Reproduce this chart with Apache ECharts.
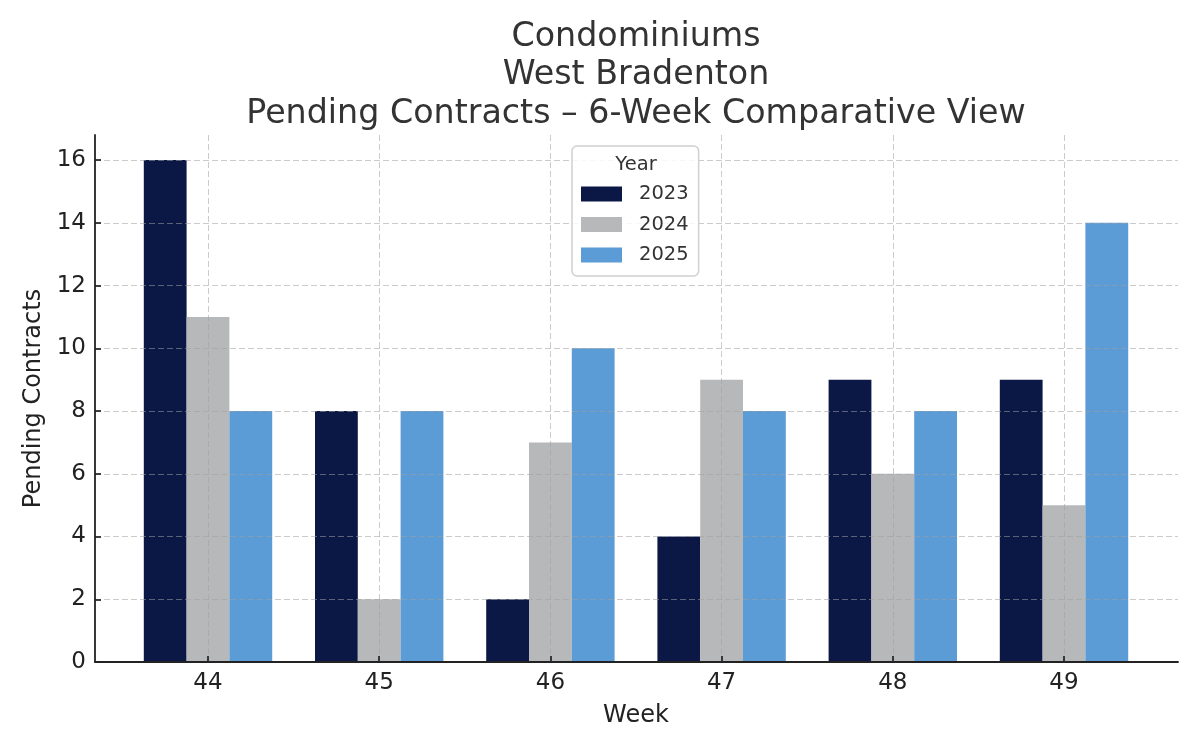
<!DOCTYPE html>
<html>
<head>
<meta charset="utf-8">
<script src="https://cdn.jsdelivr.net/npm/echarts@6/dist/echarts.min.js"></script>
<style>html,body{margin:0;padding:0;background:#fff}#c{width:1200px;height:750px}</style>
</head>
<body>
<div id="c"></div>
<script>
const weeks = ['44', '45', '46', '47', '48', '49'];
const yearNames = ['2023', '2024', '2025'];
const values2023 = [16, 8, 2, 4, 9, 9];
const values2024 = [11, 2, 7, 9, 6, 5];
const values2025 = [8, 8, 10, 8, 8, 14];
const yTicks = [0, 2, 4, 6, 8, 10, 12, 14, 16];
const titleLines = ['Condominiums', 'West Bradenton', 'Pending Contracts \u2013 6-Week Comparative View'];

const colors = ['#0b1846', '#b7b8ba', '#5b9bd6'];
const FONT = 'DejaVu Sans';
const gridLine = { show: true, lineStyle: { color: 'rgba(160,160,160,0.55)', width: 1, type: [6, 3] } };
const yMax = 16.8;

const chart = echarts.init(document.getElementById('c'), null, { renderer: 'canvas' });
const seriesData = [values2023, values2024, values2025];

chart.setOption({
  animation: false,
  backgroundColor: '#ffffff',
  textStyle: { fontFamily: FONT },
  title: [
    {
      text: titleLines.join('\n'),
      left: 631, top: 13, textAlign: 'center', z: 10,
      textStyle: { fontFamily: FONT, fontSize: 33.3, fontWeight: 'normal', color: '#333333', lineHeight: 38.5 }
    },
    {
      text: 'Year',
      left: 631, top: 149, textAlign: 'center', z: 10,
      textStyle: { fontFamily: FONT, fontSize: 19.5, fontWeight: 'normal', color: '#333333', lineHeight: 22 }
    }
  ],
  legend: {
    data: yearNames,
    orient: 'vertical',
    left: 572, top: 146,
    padding: [38, 10, 11, 9],
    itemWidth: 41, itemHeight: 15, itemGap: 10.5,
    icon: 'rect',
    backgroundColor: 'rgba(255,255,255,0.85)',
    borderColor: '#d0d0d0', borderWidth: 1.5, borderRadius: 5,
    textStyle: { fontFamily: FONT, fontSize: 19.5, color: '#333333', lineHeight: 15, padding: [0, 0, 0, 12] },
    z: 6
  },
  grid: [
    { left: 95, right: 22, top: 135, bottom: 88, containLabel: false },
    { left: 208, right: 136, top: 135, bottom: 88, containLabel: false }
  ],
  xAxis: [
    {
      gridIndex: 0, type: 'value', min: 0, max: 1, z: 5,
      axisLine: { show: true, lineStyle: { color: '#222222', width: 1.8 } },
      axisTick: { show: false }, axisLabel: { show: false }, splitLine: { show: false }
    },
    {
      gridIndex: 1, type: 'category', data: weeks, boundaryGap: false, z: 6,
      name: 'Week', nameLocation: 'middle', nameGap: 42,
      nameTextStyle: { fontFamily: FONT, fontSize: 24, color: '#222222' },
      axisLine: { show: true, lineStyle: { color: 'rgba(0,0,0,0)', width: 1 } },
      axisTick: { show: true, inside: true, length: 6, lineStyle: { color: '#222222', width: 1.7 } },
      axisLabel: { fontFamily: FONT, fontSize: 23, color: '#222222', margin: 10 },
      splitLine: gridLine
    }
  ],
  yAxis: [
    {
      gridIndex: 0, type: 'value', min: 0, max: yMax, interval: 2, z: 5,
      name: 'Pending Contracts', nameLocation: 'middle', nameGap: 48,
      nameTextStyle: { fontFamily: FONT, fontSize: 24, color: '#222222' },
      axisLine: { show: true, lineStyle: { color: '#222222', width: 1.8 } },
      axisTick: { show: true, inside: true, length: 6, lineStyle: { color: '#222222', width: 1.7 },
        customValues: yTicks },
      axisLabel: { fontFamily: FONT, fontSize: 23, color: '#222222', margin: 9,
        customValues: yTicks },
      splitLine: gridLine
    },
    {
      gridIndex: 1, type: 'value', min: 0, max: yMax, interval: 2, show: false,
      splitLine: { show: false }
    }
  ],
  series: yearNames.map((name, i) => ({
    name: name,
    type: 'bar',
    xAxisIndex: 1, yAxisIndex: 1,
    data: seriesData[i],
    barGap: '0%', barCategoryGap: '25%',
    clip: false,
    z: 2,
    itemStyle: { color: colors[i] }
  }))
});
</script>
</body>
</html>
